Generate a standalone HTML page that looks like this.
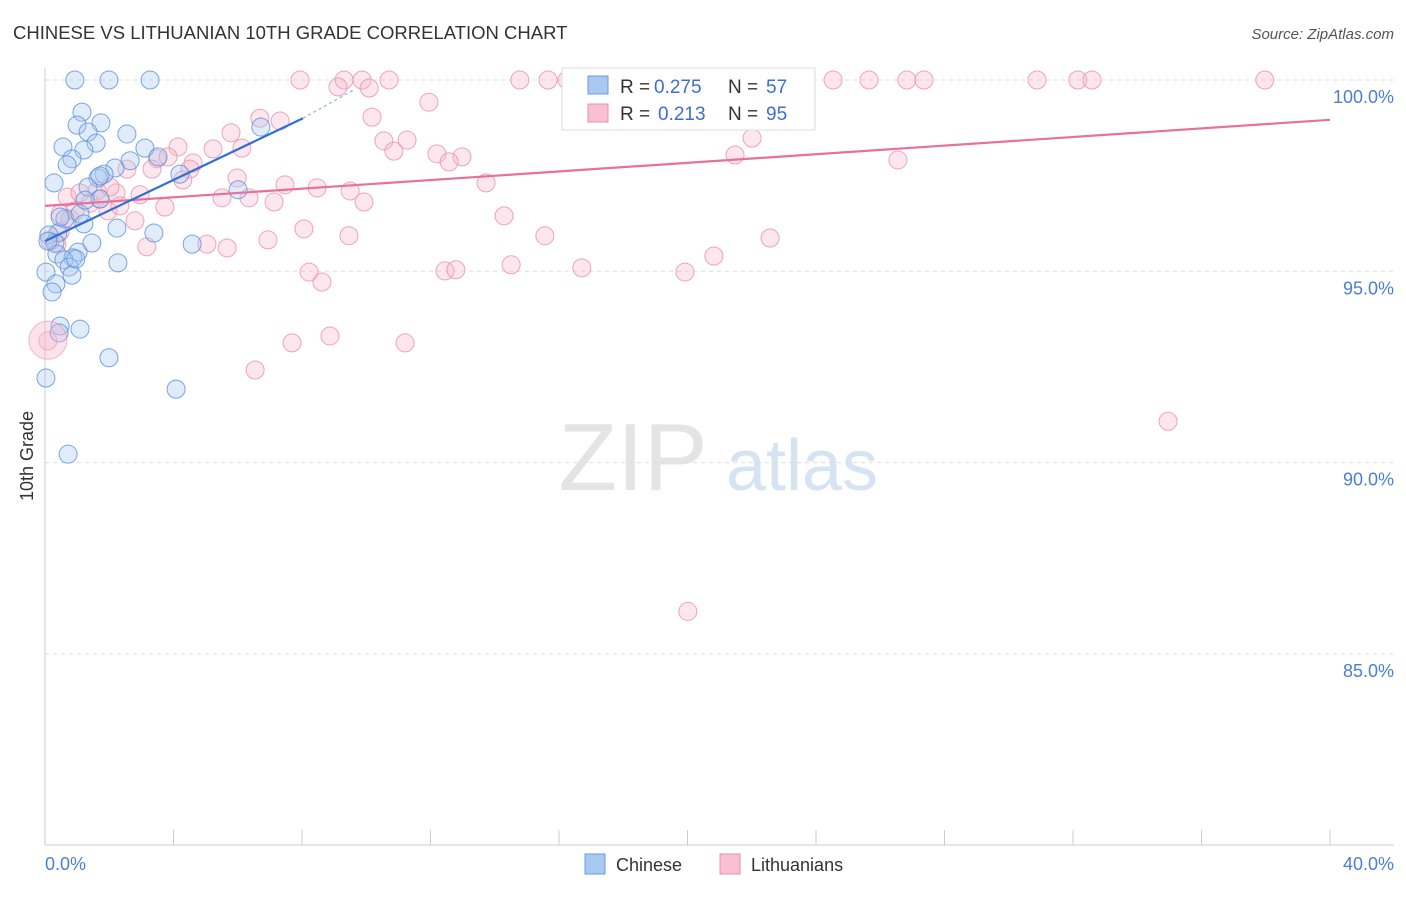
<!DOCTYPE html>
<html><head><meta charset="utf-8"><style>
body{margin:0;background:#fff;font-family:"Liberation Sans",sans-serif;}
svg text{font-family:"Liberation Sans",sans-serif;}
</style></head><body>
<svg id="chart" width="1406" height="892" viewBox="0 0 1406 892" xmlns="http://www.w3.org/2000/svg">
<text x="13" y="39" font-size="18.5" fill="#333">CHINESE VS LITHUANIAN 10TH GRADE CORRELATION CHART</text>
<text x="1394" y="39" font-size="15" fill="#555" text-anchor="end" font-style="italic">Source: ZipAtlas.com</text>
<g>
<text x="633" y="490" font-size="96" fill="#e4e4e4" text-anchor="middle" font-family="Liberation Serif, serif">ZIP</text>
<text x="802" y="490" font-size="72" fill="#d6e3f3" text-anchor="middle">atlas</text>
</g>
<g id="grid"></g>
<g id="axes"></g>
<g id="marks"></g>
<text transform="translate(33,456) rotate(-90)" font-size="18" fill="#333" text-anchor="middle">10th Grade</text>
<text x="45" y="870" font-size="18" fill="#4a7fd4">0.0%</text>
<text x="1394" y="870" font-size="18" fill="#4a7fd4" text-anchor="end">40.0%</text>
<g>
<rect x="562" y="68" width="253" height="62" fill="#fff" stroke="#ddd"/>
<rect x="588" y="76" width="20" height="18" fill="#a8c8f0" stroke="#6a9be0"/>
<text x="620" y="93" font-size="19" fill="#333">R =</text>
<text x="654" y="93" font-size="19" fill="#3a6fd0">0.275</text>
<text x="728" y="93" font-size="19" fill="#333">N =</text>
<text x="766" y="93" font-size="19" fill="#3a6fd0">57</text>
<rect x="588" y="104" width="20" height="18" fill="#f8c0d2" stroke="#e890ab"/>
<text x="620" y="120" font-size="19" fill="#333">R =</text>
<text x="658" y="120" font-size="19" fill="#3a6fd0">0.213</text>
<text x="728" y="120" font-size="19" fill="#333">N =</text>
<text x="766" y="120" font-size="19" fill="#3a6fd0">95</text>
</g>
<g>
<rect x="585" y="854" width="20" height="20" fill="#a8c8f0" stroke="#6a9be0"/>
<text x="616" y="871" font-size="18" fill="#333">Chinese</text>
<rect x="720" y="854" width="20" height="20" fill="#f8c0d2" stroke="#e890ab"/>
<text x="751" y="871" font-size="18" fill="#333">Lithuanians</text>
</g>
</svg>
<script>
const yTicks=[100,95,90,85];
const yTickLabels=["100.0%","95.0%","90.0%","85.0%"];
const chineseX=[0.93,1.99,3.27,1.15,1.00,1.74,1.34,2.55,0.56,1.59,1.21,3.11,0.84,0.69,2.65,3.52,2.18,1.84,1.65,0.28,1.34,4.20,6.01,6.72,1.71,0.62,1.09,1.21,2.24,0.40,0.12,3.39,0.31,1.46,4.58,1.03,0.37,0.87,0.59,2.27,0.75,0.03,0.84,0.34,0.22,0.47,1.09,0.44,1.99,0.03,4.08,0.72,0.96,1.25,0.47,1.71,0.09];
const chineseY=[100,100,100,99.16,98.82,98.88,98.64,98.59,98.25,98.35,98.17,98.22,97.94,97.78,97.89,97.99,97.70,97.54,97.44,97.31,97.20,97.54,97.13,98.77,96.89,96.37,96.50,96.24,96.13,96.00,95.95,96.00,95.74,95.74,95.71,95.50,95.45,95.35,95.30,95.22,95.11,94.98,94.90,94.67,94.46,93.57,93.49,93.39,92.74,92.21,91.92,90.22,95.32,96.86,96.42,97.49,95.79];
const lithX=[7.94,9.31,9.87,10.71,14.78,15.66,16.25,18.99,23.63,24.53,25.65,26.83,27.36,30.88,32.15,32.59,37.97,9.12,10.09,11.95,10.18,6.69,7.32,5.79,11.27,10.55,22.01,4.14,5.23,6.13,10.86,12.20,12.98,12.58,21.48,26.55,3.49,3.83,4.61,4.51,3.33,2.55,5.98,4.29,13.73,7.47,8.47,9.50,2.21,2.96,0.69,1.09,1.62,5.51,6.35,7.13,9.93,1.40,1.96,3.73,2.80,0.47,14.29,0.47,0.37,3.17,5.04,5.67,6.94,8.06,9.46,15.56,22.57,20.82,14.51,16.71,19.92,12.45,12.79,8.22,8.62,7.69,8.87,11.21,6.54,34.96,20.01,0.09,1.71,2.02,0.78,2.33,0.16,0.93];
const lithY=[100,100,100,100,100,100,100,100,100,100,100,100,100,100,100,100,100,99.82,99.79,99.42,99.03,99.00,98.93,98.62,98.43,98.41,98.48,98.25,98.20,98.22,98.14,98.07,97.99,97.86,98.04,97.91,97.94,97.99,97.83,97.67,97.67,97.67,97.44,97.39,97.31,97.26,97.18,97.10,97.05,97.00,96.94,97.05,97.10,96.92,96.92,96.81,96.81,96.78,96.58,96.68,96.32,96.50,96.45,96.03,95.71,95.64,95.71,95.61,95.82,96.11,95.93,95.93,95.87,95.40,95.17,95.09,94.98,95.01,95.04,94.98,94.72,93.13,93.31,93.13,92.42,91.08,86.11,93.18,96.89,97.20,96.37,96.71,95.79,96.58];
const blueTrend=[[0,95.79],[8.03,99.0]];
const blueDash=[[8.03,99.0],[9.65,99.76]];
const pinkTrend=[[0,96.71],[40,98.96]];
const x0=45,x1=1330,yTop=80,pxPer5=191.3;
function sx(v){return x0+(v/40)*(x1-x0);}
function sy(v){return yTop+(100-v)/5*pxPer5;}
const NS="http://www.w3.org/2000/svg";
function mk(tag,attrs,parent){const e=document.createElementNS(NS,tag);for(const k in attrs)e.setAttribute(k,attrs[k]);parent.appendChild(e);return e;}
const grid=document.getElementById('grid'),axes=document.getElementById('axes'),marks=document.getElementById('marks');
yTicks.forEach((t,i)=>{
 const l=mk('line',{x1:45,x2:1394,y1:sy(t),y2:sy(t),stroke:'#dedede','stroke-dasharray':'4,4'},grid);
 
 
 const tx=mk('text',{x:1394,y:sy(t)+23,'font-size':18,fill:'#4a7fd4','text-anchor':'end'},grid);
 tx.textContent=yTickLabels[i];
 
 
});
const ax=mk('line',{x1:45,x2:45,y1:68,y2:845,stroke:'#ccc'},axes);


const bx=mk('line',{x1:45,x2:1394,y1:845,y2:845,stroke:'#ccc'},axes);


for(let i=0;i<=10;i++){const t=mk('line',{x1:sx(i*4),x2:sx(i*4),y1:830,y2:845,stroke:'#ccc'},axes);
 
 }
function dots(xs,ys,fill,stroke,name){xs.forEach((x,i)=>{const c=mk('circle',{cx:sx(x),cy:sy(ys[i]),r:9,fill:fill,'fill-opacity':0.35,stroke:stroke,'stroke-width':1,'stroke-opacity':0.8},marks);
 
 });}
dots(lithX,lithY,'#f8b8cc','#e890ab','lithuanian-point');
dots(chineseX,chineseY,'#a8c8f0','#5b8fdc','chinese-point');
const big=mk('circle',{cx:sx(0.09),cy:sy(93.2),r:19,fill:'#f8b8cc','fill-opacity':0.4,stroke:'#e890ab','stroke-opacity':0.6},marks);


function line(p,st,w,dash,name){const l=mk('line',{x1:sx(p[0][0]),y1:sy(p[0][1]),x2:sx(p[1][0]),y2:sy(p[1][1]),stroke:st,'stroke-width':w},marks);if(dash)l.setAttribute('stroke-dasharray',dash);
 
 }
line(pinkTrend,'#e8709a',2.2,null,'lithuanian-trend-line');
line(blueTrend,'#2f6fd6',2.2,null,'chinese-trend-line');
line(blueDash,'#8fb3e8',1.2,'3,3','chinese-trend-extension');
</script>
</body></html>
